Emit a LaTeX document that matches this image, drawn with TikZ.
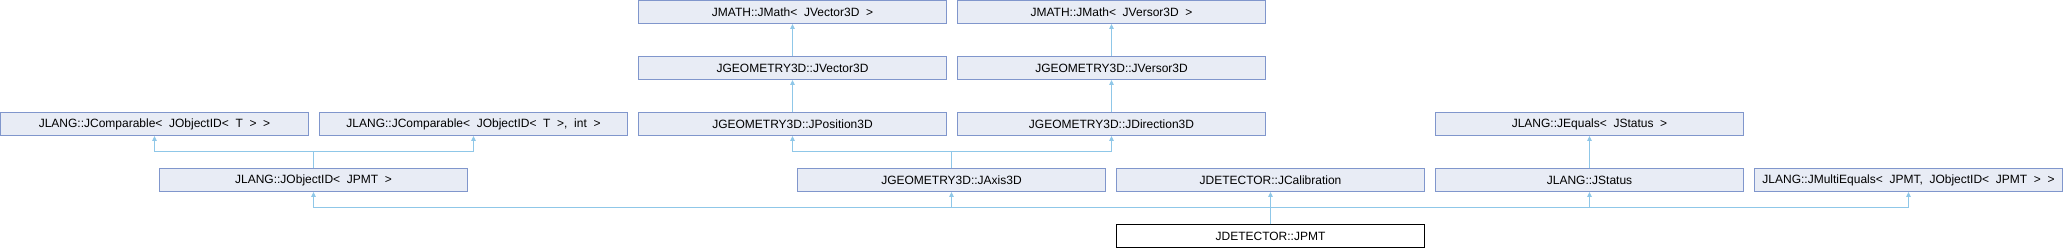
\documentclass[tikz,border=0pt]{standalone}
\usepackage{fontspec}
\setmainfont{Liberation Sans}
\usepackage{tikz}
\usetikzlibrary{arrows.meta, positioning}
\usepackage{xcolor}

\definecolor{clsfill}{RGB}{232,236,245}
\definecolor{clsdraw}{RGB}{128,150,204}
\definecolor{inhline}{RGB}{143,199,232}

\tikzset{
  cls/.style={draw=clsdraw, fill=clsfill, line width=1pt, minimum width=308pt,
              minimum height=23pt, inner sep=0pt, font=\fontsize{12}{14}\selectfont},
  self/.style={cls, draw=black, fill=white},
  inh/.style={draw=inhline, line width=1pt, -{Triangle[length=5pt,width=4.5pt]}}
}

\begin{document}
\begin{tikzpicture}[x=1pt, y=-1pt]
  \useasboundingbox (0,0) rectangle (2063,248);

  % top row
  \node[cls] (mathvec) at (792.5,12) {JMATH::JMath<\ \ JVector3D\ \ >};
  \node[cls] (mathver) at (1111.5,12) {JMATH::JMath<\ \ JVersor3D\ \ >};

  % second row
  \node[cls] (vec) at (792.5,68) {JGEOMETRY3D::JVector3D};
  \node[cls] (ver) at (1111.5,68) {JGEOMETRY3D::JVersor3D};

  % third row
  \node[cls] (comp) at (154.5,124) {JLANG::JComparable<\ \ JObjectID<\ \ T\ \ >\ \ >};
  \node[cls] (compint) at (473.5,124) {JLANG::JComparable<\ \ JObjectID<\ \ T\ \ >,\ \ int\ \ >};
  \node[cls] (pos) at (792.5,124) {JGEOMETRY3D::JPosition3D};
  \node[cls] (dir) at (1111.5,124) {JGEOMETRY3D::JDirection3D};
  \node[cls] (equals) at (1589.5,124) {JLANG::JEquals<\ \ JStatus\ \ >};

  % fourth row
  \node[cls] (objid) at (313.5,180) {JLANG::JObjectID<\ \ JPMT\ \ >};
  \node[cls] (axis) at (951.5,180) {JGEOMETRY3D::JAxis3D};
  \node[cls] (calib) at (1270.5,180) {JDETECTOR::JCalibration};
  \node[cls] (status) at (1589.5,180) {JLANG::JStatus};
  \node[cls] (multi) at (1908.5,180) {JLANG::JMultiEquals<\ \ JPMT,\ \ JObjectID<\ \ JPMT\ \ >\ \ >};

  % the class itself
  \node[self] (pmt) at (1270.5,236) {JDETECTOR::JPMT};

  % levels of the bus lines
  \coordinate (busA) at (0,152);
  \coordinate (busB) at (0,208);

  % single inheritance
  \draw[inh] (vec.north) -- (mathvec.south);
  \draw[inh] (ver.north) -- (mathver.south);
  \draw[inh] (pos.north) -- (vec.south);
  \draw[inh] (dir.north) -- (ver.south);
  \draw[inh] (status.north) -- (equals.south);

  % multiple inheritance
  \draw[inh] (objid.north) -- (objid.north |- busA) -| (comp.south);
  \draw[inh] (objid.north) -- (objid.north |- busA) -| (compint.south);
  \draw[inh] (axis.north) -- (axis.north |- busA) -| (pos.south);
  \draw[inh] (axis.north) -- (axis.north |- busA) -| (dir.south);

  \draw[inh] (pmt.north) -- (pmt.north |- busB) -| (objid.south);
  \draw[inh] (pmt.north) -- (pmt.north |- busB) -| (axis.south);
  \draw[inh] (pmt.north) -- (calib.south);
  \draw[inh] (pmt.north) -- (pmt.north |- busB) -| (status.south);
  \draw[inh] (pmt.north) -- (pmt.north |- busB) -| (multi.south);
\end{tikzpicture}
\end{document}
